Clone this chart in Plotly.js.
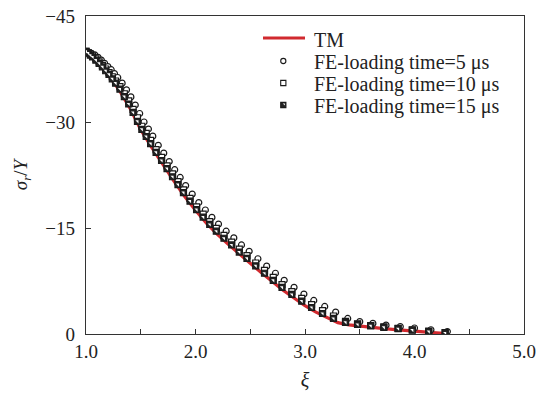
<!DOCTYPE html>
<html>
<head>
<meta charset="utf-8">
<script src="https://cdn.plot.ly/plotly-3.0.1.min.js"></script>
<style>html,body{margin:0;padding:0;background:#fff;}#chart{width:537px;height:394px;}</style>
</head>
<body>
<div id="chart"></div>
<script>
// Theoretical model (TM)
const tmXi = [1.0,1.1,1.2,1.3,1.4,1.5,1.6,1.7,1.8,1.9,2.0,2.1,2.2,2.3,2.4,2.5,2.6,2.7,2.8,2.9,3.0,3.1,3.2,3.3,3.4,3.5,3.6,3.7,3.8,3.9,4.0,4.1,4.2,4.3];
const tmSigma = [-40.0,-38.5,-36.7,-34.6,-32.0,-28.9,-26.4,-24.0,-21.7,-19.5,-17.5,-15.7,-14.1,-12.7,-11.3,-10.0,-8.7,-7.4,-6.2,-5.1,-4.0,-3.1,-2.3,-1.6,-1.3,-1.1,-0.95,-0.8,-0.65,-0.5,-0.4,-0.3,-0.15,-0.05];

// FE, loading time = 5 us (circles)
const fe5Xi = [1.00,1.03,1.05,1.08,1.11,1.14,1.17,1.20,1.23,1.26,1.29,1.33,1.37,1.41,1.45,1.49,1.53,1.57,1.61,1.66,1.71,1.76,1.81,1.86,1.91,1.97,2.03,2.09,2.15,2.21,2.28,2.35,2.42,2.49,2.57,2.65,2.73,2.81,2.90,2.99,3.08,3.18,3.28,3.39,3.50,3.62,3.74,3.87,4.00,4.15,4.30];
const fe5Sigma = [-39.95,-39.85,-39.7,-39.5,-39.15,-38.75,-38.3,-37.85,-37.4,-36.85,-36.3,-35.5,-34.55,-33.55,-32.4,-31.2,-30.0,-29.0,-28.0,-26.7,-25.6,-24.4,-23.25,-22.15,-21.0,-19.8,-18.6,-17.55,-16.5,-15.55,-14.55,-13.6,-12.6,-11.7,-10.65,-9.6,-8.6,-7.6,-6.6,-5.65,-4.75,-3.9,-3.1,-2.2,-1.75,-1.5,-1.25,-1.05,-0.85,-0.6,-0.35];

// FE, loading time = 10 us (open squares) and 15 us share the same xi nodes
const feXi = [1.00,1.02,1.04,1.06,1.09,1.12,1.15,1.18,1.21,1.24,1.27,1.31,1.35,1.39,1.43,1.47,1.51,1.55,1.59,1.64,1.69,1.74,1.79,1.84,1.89,1.95,2.01,2.07,2.13,2.19,2.26,2.33,2.40,2.47,2.55,2.63,2.71,2.79,2.88,2.97,3.06,3.16,3.26,3.37,3.48,3.60,3.72,3.85,3.98,4.13,4.28];
const fe10Sigma = [-40.0,-39.8,-39.6,-39.35,-38.95,-38.5,-38.0,-37.5,-37.0,-36.4,-35.8,-35.0,-34.0,-33.0,-31.8,-30.6,-29.4,-28.4,-27.4,-26.1,-25.0,-23.8,-22.65,-21.55,-20.4,-19.2,-18.0,-16.95,-15.9,-14.95,-13.95,-13.0,-12.0,-11.1,-10.05,-9.0,-8.0,-7.0,-6.0,-5.05,-4.15,-3.3,-2.55,-1.8,-1.45,-1.2,-1.0,-0.8,-0.6,-0.4,-0.2];

// FE, loading time = 15 us (half-filled squares)
const fe15Sigma = [-40.0,-39.75,-39.45,-39.2,-38.75,-38.3,-37.8,-37.25,-36.75,-36.1,-35.5,-34.65,-33.6,-32.55,-31.35,-30.1,-28.95,-27.95,-26.95,-25.7,-24.55,-23.4,-22.25,-21.15,-20.0,-18.8,-17.6,-16.55,-15.5,-14.55,-13.55,-12.6,-11.6,-10.7,-9.65,-8.6,-7.6,-6.6,-5.6,-4.65,-3.75,-2.9,-2.2,-1.65,-1.35,-1.15,-0.95,-0.75,-0.55,-0.35,-0.15];

const yTickVals = [-45,-30,-15,0];
const yTickText = ['\u221245','\u221230','\u221215','0'];
const legendLabels = ['TM','FE-loading time=5 \u03bcs','FE-loading time=10 \u03bcs','FE-loading time=15 \u03bcs'];

const serif = "'Liberation Serif', 'Times New Roman', serif";
const ink = '#1a1a1a';

const traces = [
  {x: tmXi, y: tmSigma, mode: 'lines', name: legendLabels[0],
   line: {color: '#d12a2f', width: 3.2}},
  {x: fe5Xi, y: fe5Sigma, mode: 'markers', name: legendLabels[1],
   marker: {symbol: 'circle', size: 6, color: '#ffffff', line: {color: ink, width: 1.2}}},
  {x: feXi, y: fe10Sigma, mode: 'markers', name: legendLabels[2],
   marker: {symbol: 'square', size: 6, color: '#ffffff', line: {color: ink, width: 1.2}}},
  {x: feXi, y: fe15Sigma, mode: 'markers', name: legendLabels[3],
   marker: {symbol: 'square', size: 6, color: '#222222', line: {color: ink, width: 1.2}}},
  {x: feXi, y: fe15Sigma, mode: 'markers', name: legendLabels[3], showlegend: false, hoverinfo: 'skip',
   marker: {symbol: 'triangle-ne', size: 3.5, color: '#ffffff', line: {width: 0}}}
];

// hand-drawn legend (paper coordinates) to match the compact row spacing
const rowsPx = [38, 61, 83, 105];
const px2x = p => (p - 86) / 438;
const py2y = p => (334 - p) / 318;
const mx = 283.3, half = 2.6;

const shapes = [
  {type: 'line', xref: 'paper', yref: 'paper', x0: px2x(263), x1: px2x(305), y0: py2y(rowsPx[0]), y1: py2y(rowsPx[0]),
   line: {color: '#d12a2f', width: 3.2}},
  {type: 'circle', xref: 'paper', yref: 'paper', x0: px2x(mx - half), x1: px2x(mx + half), y0: py2y(rowsPx[1] + half), y1: py2y(rowsPx[1] - half),
   line: {color: ink, width: 1.1}, fillcolor: '#fff'},
  {type: 'rect', xref: 'paper', yref: 'paper', x0: px2x(mx - half), x1: px2x(mx + half), y0: py2y(rowsPx[2] + half), y1: py2y(rowsPx[2] - half),
   line: {color: ink, width: 1.1}, fillcolor: '#fff'},
  {type: 'rect', xref: 'paper', yref: 'paper', x0: px2x(mx - half), x1: px2x(mx + half), y0: py2y(rowsPx[3] + half), y1: py2y(rowsPx[3] - half),
   line: {color: ink, width: 1.1}, fillcolor: '#222'},
  {type: 'path', xref: 'paper', yref: 'paper',
   path: 'M ' + px2x(mx - 0.5) + ' ' + py2y(rowsPx[3] - half + 1) + ' L ' + px2x(mx + half - 1) + ' ' + py2y(rowsPx[3] - half + 1) + ' L ' + px2x(mx + half - 1) + ' ' + py2y(rowsPx[3] + 0.5) + ' Z',
   line: {width: 0}, fillcolor: '#fff'}
];

const annotations = legendLabels.map((t, i) => ({
  text: t, xref: 'paper', yref: 'paper', x: px2x(313), y: py2y(rowsPx[i] + 1.5),
  xanchor: 'left', yanchor: 'middle', showarrow: false, borderpad: 0,
  font: {family: serif, size: 20, color: '#222'}
}));

const layout = {
  width: 537, height: 394,
  margin: {l: 86, r: 13, t: 16, b: 60},
  paper_bgcolor: '#fff', plot_bgcolor: '#fff',
  font: {family: serif, size: 18, color: '#222'},
  showlegend: false,
  shapes: shapes,
  annotations: annotations,
  xaxis: {range: [1, 5], dtick: 1, tick0: 1, tickformat: '.1f',
          ticks: 'inside', ticklen: 5, tickcolor: '#333', tickwidth: 1,
          minor: {dtick: 0.5, tick0: 1, ticks: 'inside', ticklen: 5, tickcolor: '#333', tickwidth: 1, showgrid: false},
          showline: true, linecolor: '#333', linewidth: 1.2, mirror: true,
          showgrid: false, zeroline: false,
          tickfont: {family: serif, size: 19, color: '#222'},
          title: {text: '<i>\u03be</i>', font: {family: serif, size: 20, color: '#222'}, standoff: 12}},
  yaxis: {range: [0, -45], tickvals: yTickVals, ticktext: yTickText,
          ticks: 'inside', ticklen: 5, tickcolor: '#333', tickwidth: 1,
          showline: true, linecolor: '#333', linewidth: 1.2, mirror: true,
          showgrid: false, zeroline: false, ticklabelstandoff: 6,
          tickfont: {family: serif, size: 19, color: '#222'},
          title: {text: '<i>\u03c3<sub>r</sub></i>/<i>Y</i>', font: {family: serif, size: 19, color: '#222'}, standoff: 12}}
};

Plotly.newPlot('chart', traces, layout, {staticPlot: true, displayModeBar: false});
</script>
</body>
</html>
